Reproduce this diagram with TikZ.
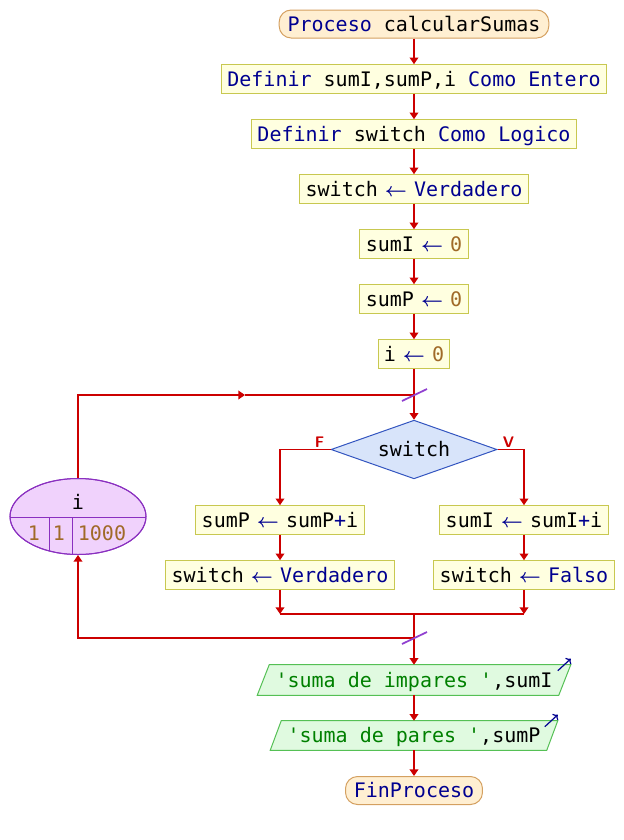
\documentclass[tikz,border=0pt]{standalone}
\usepackage{fontspec}
\setmonofont{DejaVu Sans Mono}
\usetikzlibrary{shapes.geometric,arrows.meta,calc}
\definecolor{flowc}{HTML}{CC0000}
\definecolor{kwc}{HTML}{000090}
\definecolor{numc}{HTML}{A06A28}
\definecolor{strc}{HTML}{008000}
\definecolor{boxfill}{HTML}{FFFFE0}
\definecolor{boxdraw}{HTML}{C8C850}
\definecolor{termfill}{HTML}{FFEFD2}
\definecolor{termdraw}{HTML}{D4A060}
\definecolor{decfill}{HTML}{D8E4FA}
\definecolor{decdraw}{HTML}{3355C0}
\definecolor{loopfill}{HTML}{F0D2FC}
\definecolor{loopdraw}{HTML}{8A30C0}
\definecolor{outfill}{HTML}{E0FAE0}
\definecolor{outdraw}{HTML}{55C055}
\definecolor{slashc}{HTML}{9040D0}
\newcommand{\kwd}[1]{\textcolor{kwc}{#1}}
\newcommand{\nmb}[1]{\textcolor{numc}{#1}}
\newcommand{\strg}[1]{\textcolor{strc}{#1}}
\newcommand{\asg}{\makebox[0.602em][c]{\textcolor{kwc}{\boldmath$\leftarrow$}}}
\pgfdeclarelayer{bg}
\pgfsetlayers{bg,main}
\begin{document}
\begin{tikzpicture}[x=0.75pt,y=-0.75pt,
  every node/.style={font=\ttfamily\fontsize{15pt}{18pt}\selectfont, text height=11pt, text depth=0pt, inner ysep=0pt},
  proc/.style={draw=boxdraw, fill=boxfill, line width=0.75pt, minimum height=21.5pt, inner xsep=4.4pt},
  term/.style={draw=termdraw, fill=termfill, line width=0.75pt, rounded corners=9pt, minimum height=21pt, inner xsep=6.3pt},
  dec/.style={diamond, draw=decdraw, fill=decfill, line width=0.75pt, minimum width=124.5pt, minimum height=44pt, inner sep=0pt, aspect=2.8},
  loopn/.style={ellipse, draw=loopdraw, fill=loopfill, line width=0.75pt, minimum width=102pt, minimum height=57pt, inner sep=0pt},
  outn/.style={minimum height=22.5pt, inner xsep=0pt},
  outshape/.style={draw=outdraw, fill=outfill, line width=0.75pt},
  flow/.style={draw=flowc, line width=1.15pt, -{Triangle[length=5pt,width=6.5pt]}},
  plain/.style={draw=flowc, line width=1.15pt},
  slash/.style={draw=slashc, line width=1.3pt},
  lbl/.style={font=\sffamily\bfseries\fontsize{11.5pt}{13pt}\selectfont, text=flowc},
  outarrow/.style={draw=kwc, line width=0.9pt, -{To[length=3pt]}}
]
\useasboundingbox (0,0) rectangle (624,840);

% main column
\node[term] (t) at (414,24) {\kwd{Proceso} calcularSumas};
\node[proc] (b1) at (414,79) {\kwd{Definir} sumI,sumP,i \kwd{Como} \kwd{Entero}};
\node[proc] (b2) at (414,134) {\kwd{Definir} switch \kwd{Como} \kwd{Logico}};
\node[proc] (b3) at (414,189) {switch \asg{} \kwd{Verdadero}};
\node[proc] (b4) at (414,244) {sumI \asg{} \nmb{0}};
\node[proc] (b5) at (414,299) {sumP \asg{} \nmb{0}};
\node[proc] (b6) at (414,354) {i \asg{} \nmb{0}};

\coordinate (jtop) at (414,395);
\coordinate (lm) at (245,395);
\node[dec] (d) at (414,449.5) {switch};
\node[lbl] (lf) at ($(d.west)+(-11,-9)$) {F};
\node[lbl] (lv) at ($(d.east)+(11,-9)$) {V};

\node[proc] (l1) at (280,520) {sumP \asg{} sumP\kwd{+}i};
\node[proc] (l2) at (280,575) {switch \asg{} \kwd{Verdadero}};
\node[proc] (r1) at (524,520) {sumI \asg{} sumI\kwd{+}i};
\node[proc] (r2) at (524,575) {switch \asg{} \kwd{Falso}};

\coordinate (jmid) at (414,614);
\coordinate (jbot) at (414,638);

% loop ellipse
\node[loopn] (e) at (78,516.5) {};
\begin{scope}
  \clip (e.center) ellipse [x radius=51pt, y radius=28.5pt];
  \draw[loopdraw, line width=0.75pt] (e.west |- 0,517) -- (e.east |- 0,517);
  \draw[loopdraw, line width=0.75pt] (49,517) -- (49,560);
  \draw[loopdraw, line width=0.75pt] (72,517) -- (72,560);
\end{scope}
\draw[loopdraw, line width=0.75pt] (e.center) ellipse [x radius=51pt, y radius=28.5pt];
\node (ev) at (78,502) {i};
\node (e1) at (34,533) {\nmb{1}};
\node (e2) at (59,533) {\nmb{1}};
\node (e3) at (102,533) {\nmb{1000}};

% outputs
\node[outn, minimum width=234.75pt] (p1) at (414,680) {\strg{'suma de impares '},sumI};
\node[outn, minimum width=215.25pt, minimum height=21.75pt] (p2) at (414,735.5) {\strg{'suma de pares '},sumP};
\begin{pgfonlayer}{bg}
\filldraw[outshape] ($(p1.north west)+(12,0)$) -- (p1.north east) -- ($(p1.south east)+(-12,0)$) -- (p1.south west) -- cycle;
\filldraw[outshape] ($(p2.north west)+(11,0)$) -- (p2.north east) -- ($(p2.south east)+(-11,0)$) -- (p2.south west) -- cycle;
\end{pgfonlayer}
\draw[outarrow] ($(p1.north east)+(-13,6)$) -- ($(p1.north east)+(0,-6)$);
\draw[outarrow] ($(p2.north east)+(-13,6)$) -- ($(p2.north east)+(0,-6)$);

\node[term, inner xsep=6.2pt] (f) at (414,790.5) {\kwd{FinProceso}};

% connectors
\draw[flow] (t) -- (b1);
\draw[flow] (b1) -- (b2);
\draw[flow] (b2) -- (b3);
\draw[flow] (b3) -- (b4);
\draw[flow] (b4) -- (b5);
\draw[flow] (b5) -- (b6);
\draw[flow] (b6.south) -- (jtop) -- (d.north);
\draw[flow] (e.north) |- (lm);
\draw[plain] (lm) -- (jtop);
\draw[flow] (d.west) -| (l1.north);
\draw[flow] (d.east) -| (r1.north);
\draw[flow] (l1) -- (l2);
\draw[flow] (r1) -- (r2);
\draw[flow] (l2.south) -- (l2.south |- jmid);
\draw[flow] (r2.south) -- (r2.south |- jmid);
\draw[plain] (l2.south |- jmid) -- (r2.south |- jmid);
\draw[flow] (jmid) -- (jbot) -- (p1.north);
\draw[flow] (jbot) -| (e.south);
\draw[flow] (p1) -- (p2);
\draw[flow] (p2) -- (f);
\draw[slash] ($(jtop)+(-12,6)$) -- ($(jtop)+(13,-6)$);
\draw[slash] ($(jbot)+(-12,6)$) -- ($(jbot)+(13,-6)$);
\end{tikzpicture}
\end{document}
